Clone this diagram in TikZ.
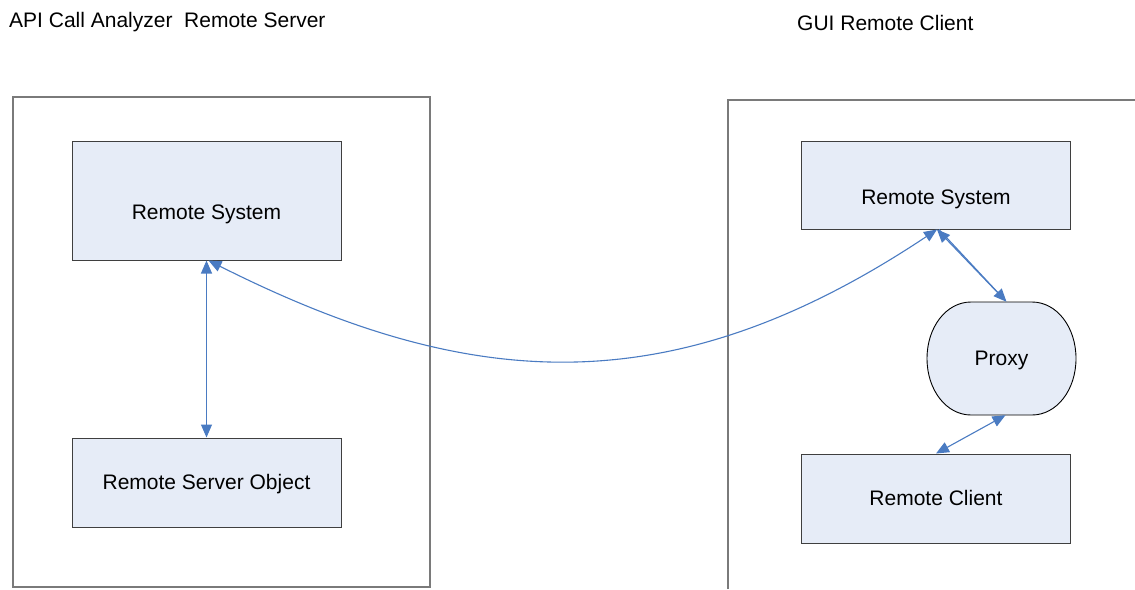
\documentclass[tikz,border=0pt]{standalone}
\usepackage{fontspec}
\setmainfont{Liberation Sans}
\usetikzlibrary{arrows.meta}
\definecolor{boxfill}{HTML}{E6ECF7}
\definecolor{boxline}{HTML}{3F3F3F}
\definecolor{frameline}{HTML}{7A7A7A}
\definecolor{link}{HTML}{4A7BC2}
\tikzset{
  x=1pt, y=-1pt,
  every node/.style={font=\fontsize{21}{25}\selectfont},
  sysbox/.style={draw=boxline, line width=1pt, fill=boxfill, inner sep=0pt,
    minimum width=269pt},
  proxyline/.style={draw=black, line width=0.9pt, fill=boxfill},
  frame/.style={draw=frameline, line width=1.5pt},
  lbl/.style={inner sep=0pt},
  conn/.style={draw=link, line width=1.1pt},
  tip/.style={-{Triangle[length=13pt,width=11pt]}},
  tips/.style={{Triangle[length=13pt,width=11pt]}-{Triangle[length=13pt,width=11pt]}},
}
\begin{document}
\begin{tikzpicture}
\useasboundingbox (0,0) rectangle (1135,589);

% headings
\node[lbl, anchor=west] (hleft) at (9,22.5) {API Call Analyzer~~Remote Server};
\node[lbl, anchor=west] (hright) at (797,22.5) {GUI Remote Client};

% server frame and open client frame
\draw[frame] (13,97) rectangle (430,587);
\draw[frame] (728,589) -- (728,100) -- (1135,100);

% server side
\node[sysbox, minimum height=119pt] (rs1) at (206.5,200.5) {};
\node[lbl] (rs1t) at (206.5,214.5) {Remote System};
\node[sysbox, minimum height=89pt] (rso) at (206.5,482.5) {};
\node[lbl] (rsot) at (206.5,484.5) {Remote Server Object};

% client side
\node[sysbox, minimum height=88pt] (rs2) at (936,185) {};
\node[lbl] (rs2t) at (936,199.5) {Remote System};
% proxy: flat top and bottom, bulging sides
\path[proxyline] (971,302) -- (1032,302)
  .. controls (1056.6,302) and (1076,326.9) .. (1076,358.5)
  .. controls (1076,390.1) and (1056.6,415) .. (1032,415)
  -- (971,415)
  .. controls (946.4,415) and (927,390.1) .. (927,358.5)
  .. controls (927,326.9) and (946.4,302) .. cycle;
\node[lbl, minimum width=149pt, minimum height=113pt] (px) at (1001.5,358.5) {};
\node[lbl] (pxt) at (1001.5,360.5) {Proxy};
\node[sysbox, minimum height=89pt] (rc) at (936,498.5) {};
\node[lbl] (rct) at (936,497.5) {Remote Client};

% connectors
\draw[conn, tips] (rs1.south) -- (rso.north);
\draw[conn, tips] ([xshift=2pt]rs1.south)
  .. controls (470,392) and (672,406) .. ([xshift=1pt]rs2.south);
\draw[conn, tip] ([xshift=4pt,yshift=1pt]px.north) -- ([xshift=1pt]rs2.south);
\draw[conn, tip] ([xshift=3pt]rs2.south) -- ([xshift=5pt]px.north);
\draw[conn, tips] ([xshift=4pt]px.south) -- (rc.north);
\end{tikzpicture}
\end{document}
